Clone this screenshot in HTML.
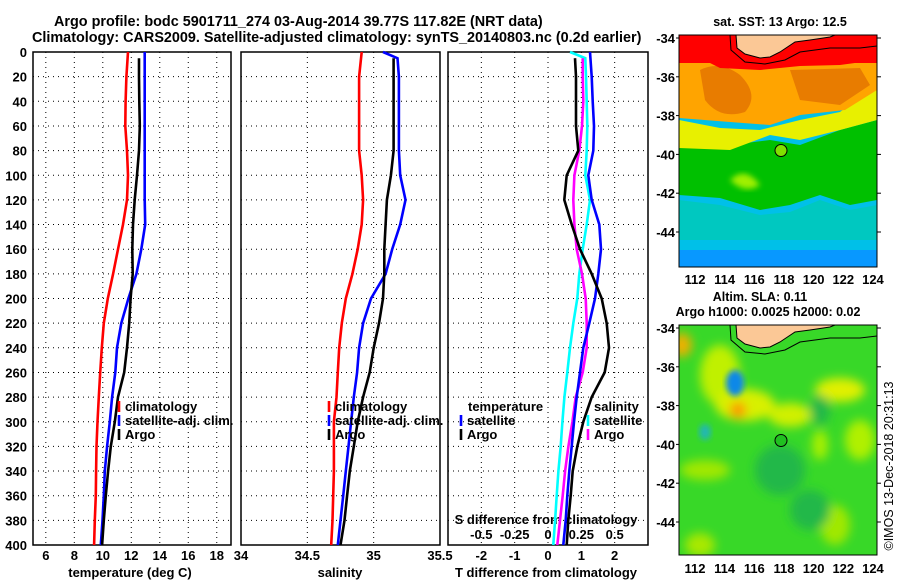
<!DOCTYPE html>
<html><head><meta charset="utf-8"><style>
html,body{margin:0;padding:0;background:#fff;}
svg{display:block;font-family:"Liberation Sans",sans-serif;font-weight:bold;}
</style></head><body>
<svg id="chart" width="900" height="580" viewBox="0 0 900 580" xmlns="http://www.w3.org/2000/svg">
<defs>
<clipPath id="m1c"><rect x="679" y="35" width="198" height="232"/></clipPath>
<clipPath id="m2c"><rect x="679" y="325" width="198" height="230"/></clipPath>
<filter id="bl" x="-20%" y="-20%" width="140%" height="140%"><feGaussianBlur stdDeviation="5"/></filter>
<filter id="bl2" x="-20%" y="-20%" width="140%" height="140%"><feGaussianBlur stdDeviation="3"/></filter>
</defs>
<text x="54" y="26" font-size="14.4">Argo profile: bodc 5901711_274 03-Aug-2014 39.77S 117.82E (NRT data)</text>
<text x="32" y="42" font-size="14.4">Climatology: CARS2009. Satellite-adjusted climatology: synTS_20140803.nc (0.2d earlier)</text>

<!-- SST map -->
<g clip-path="url(#m1c)">
<rect x="679" y="35" width="198" height="232" fill="#00c0e8"/>
<rect x="679" y="250" width="198" height="17" fill="#0898ff"/>
<path d="M679,200 L720,205 L760,215 L790,212 L820,200 L850,210 L877,205 L877,240 L679,240Z" fill="#00c8c0"/>
<path d="M679,140 L730,145 L770,140 L800,145 L840,130 L877,120 L877,200 L850,205 L820,195 L790,205 L760,210 L720,198 L679,195Z" fill="#00c000"/>
<path d="M730,180 Q745,165 760,185 Q745,195 730,180Z" fill="#a0f000" filter="url(#bl2)"/>
<path d="M679,120 L720,128 L760,130 L800,120 L840,112 L877,85 L877,120 L840,130 L800,140 L770,135 L730,150 L679,148Z" fill="#e8f000"/>
<path d="M679,60 L877,60 L877,90 L845,110 L800,115 L770,125 L730,122 L679,118Z" fill="#ffa400"/>
<path d="M700,70 Q720,60 740,75 Q760,95 745,112 Q720,120 705,100Z" fill="#e87c00"/>
<path d="M790,70 L860,68 L870,85 L840,105 L800,100 Z" fill="#e87c00"/>
<rect x="679" y="35" width="198" height="28" fill="#ff0000"/>
<path d="M679,58 L700,58 L720,68 L760,70 L800,66 L840,65 L877,60 L877,63 L679,63Z" fill="#ff0000"/>
<path d="M736,35 L737,48 L745,54 L760,58 L770,57 L780,52 L795,42 L810,40 L830,37 L835,35Z" fill="#fbc896"/>
<path d="M730,35 L731,50 L745,62 L765,64 L785,60 L800,52 L830,48 L860,48 L877,46" fill="none" stroke="#000" stroke-width="1"/>
<path d="M736,35 L737,48 L745,54 L760,58 L770,57 L780,52 L795,42 L810,40 L830,37 L835,35" fill="none" stroke="#000" stroke-width="1"/>
<circle cx="781" cy="150.5" r="6" fill="#80e000" stroke="#000" stroke-width="1"/>
</g>
<rect x="679" y="35" width="198" height="232" fill="none" stroke="#000" stroke-width="1"/>
<text x="780" y="26" font-size="12.5" text-anchor="middle">sat. SST: 13 Argo: 12.5</text>

<!-- SLA map -->
<g clip-path="url(#m2c)">
<rect x="679" y="325" width="198" height="230" fill="#38d828"/>
<g filter="url(#bl)">
<ellipse cx="720" cy="375" rx="20" ry="30" fill="#c0f000"/>
<ellipse cx="682" cy="345" rx="10" ry="12" fill="#f0b000"/>
<ellipse cx="745" cy="405" rx="30" ry="16" fill="#d8f000"/>
<ellipse cx="738" cy="410" rx="8" ry="8" fill="#ff9000"/>
<ellipse cx="790" cy="415" rx="22" ry="12" fill="#d0f000"/>
<ellipse cx="840" cy="390" rx="25" ry="12" fill="#e0f000"/>
<ellipse cx="860" cy="440" rx="15" ry="20" fill="#b0f000"/>
<ellipse cx="820" cy="445" rx="8" ry="15" fill="#a8f000"/>
<ellipse cx="705" cy="470" rx="25" ry="10" fill="#a0e800"/>
<ellipse cx="835" cy="525" rx="15" ry="20" fill="#a0e800"/>
<ellipse cx="700" cy="545" rx="15" ry="12" fill="#a8e800"/>
<ellipse cx="780" cy="470" rx="25" ry="25" fill="#20b848"/>
<ellipse cx="810" cy="510" rx="20" ry="20" fill="#20b848"/>
<ellipse cx="820" cy="410" rx="10" ry="15" fill="#20b848"/>
</g>
<ellipse cx="735" cy="383" rx="9" ry="13" fill="#1088e8" filter="url(#bl2)"/>
<ellipse cx="705" cy="432" rx="6" ry="8" fill="#20b8b0" filter="url(#bl2)"/>
<path d="M736,325 L737,338 L745,344 L760,348 L770,347 L780,342 L795,332 L810,330 L830,327 L835,325Z" fill="#fbc896"/>
<path d="M730,325 L731,340 L745,352 L765,354 L785,350 L800,342 L830,338 L860,338 L877,336" fill="none" stroke="#000" stroke-width="1"/>
<path d="M736,325 L737,338 L745,344 L760,348 L770,347 L780,342 L795,332 L810,330 L830,327 L835,325" fill="none" stroke="#000" stroke-width="1"/>
<circle cx="781" cy="440.5" r="6" fill="#20c020" stroke="#000" stroke-width="1"/>
</g>
<rect x="679" y="325" width="198" height="230" fill="none" stroke="#000" stroke-width="1"/>
<text x="760" y="301" font-size="12.5" text-anchor="middle">Altim. SLA: 0.11</text>
<text x="768" y="316" font-size="12.5" text-anchor="middle">Argo h1000: 0.0025 h2000: 0.02</text>
<text transform="translate(893,466) rotate(-90)" font-size="12.5" font-weight="normal" text-anchor="middle">©IMOS 13-Dec-2018 20:31:13</text>
<g id="dyn"></g>
</svg>
<script>
// ---- data ----
const depths = [0,20,40,60,80,100,120,140,160,180,200,220,240,260,280,300,320,340,360,380,400];
const depthsArgo = [5,20,40,60,80,100,120,140,160,180,200,220,240,260,280,300,320,340,360,380,400];
const depthsSatS = [0,5,20,40,60,80,100,120,140,160,180,200,220,240,260,280,300,320,340,360,380,400];
const tempClim = [11.77,11.66,11.6,11.58,11.7,11.77,11.7,11.42,11.07,10.72,10.35,10.07,9.93,9.82,9.72,9.63,9.56,9.53,9.51,9.44,9.39];
const tempSat = [12.94,12.94,12.94,12.94,12.94,12.94,12.94,12.98,12.7,12.36,11.8,11.3,11.0,10.88,10.65,10.49,10.3,10.14,10.07,9.98,9.86];
const tempArgo = [12.54,12.54,12.56,12.6,12.54,12.4,12.24,12.12,12.07,12.1,11.95,11.85,11.7,11.5,11.07,10.84,10.56,10.37,10.21,10.07,9.95];
const salClim = [34.91,34.89,34.89,34.89,34.89,34.91,34.92,34.91,34.88,34.84,34.79,34.76,34.74,34.73,34.72,34.70,34.70,34.70,34.695,34.69,34.68];
const salSat = [35.07,35.18,35.19,35.19,35.19,35.19,35.2,35.24,35.2,35.14,35.09,34.98,34.92,34.89,34.875,34.85,34.83,34.81,34.79,34.77,34.75,34.73];
const salArgo = [35.15,35.15,35.15,35.15,35.15,35.13,35.1,35.09,35.08,35.08,35.07,35.04,35.0,34.97,34.92,34.88,34.85,34.82,34.8,34.78,34.75];
const tDiffSat = [1.26,1.31,1.34,1.38,1.36,1.21,1.31,1.54,1.59,1.51,1.41,1.24,1.06,0.96,0.86,0.78,0.71,0.64,0.58,0.53,0.46];
const tDiffArgo = [0.81,0.84,0.84,0.84,0.91,0.56,0.49,0.71,0.96,1.31,1.61,1.76,1.83,1.7,1.31,1.06,0.88,0.74,0.68,0.61,0.56];
const sDiffSat = [0.165,0.28,0.285,0.29,0.295,0.29,0.28,0.315,0.29,0.26,0.235,0.22,0.19,0.165,0.145,0.123,0.108,0.095,0.078,0.065,0.053,0.04];
const sDiffArgo = [0.26,0.26,0.265,0.255,0.235,0.198,0.19,0.198,0.215,0.255,0.283,0.29,0.29,0.26,0.208,0.183,0.153,0.128,0.11,0.09,0.07];
const depthTicks = [0,20,40,60,80,100,120,140,160,180,200,220,240,260,280,300,320,340,360,380,400];
const tempTicks = [6,8,10,12,14,16,18];
const salTicks = [34,34.5,35,35.5];
const tdTicks = [-2,-1,0,1,2];
const sdTicks = [-0.5,-0.25,0,0.25,0.5];
const latTicks = [-34,-36,-38,-40,-42,-44];
const lonTicks = [112,114,116,118,120,122,124];

const NS='http://www.w3.org/2000/svg';
const g=document.getElementById('dyn');
function mk(tag,attrs,parent){const e=document.createElementNS(NS,tag);for(const k in attrs)e.setAttribute(k,attrs[k]);(parent||g).appendChild(e);return e;}
const top0=52, bot=545;
const yD=d=>top0+(d/400)*(bot-top0);
const panels=[
 {x0:33,x1:231,min:5.1,max:19,name:'temperature-panel'},
 {x0:241,x1:440,min:34,max:35.5,name:'salinity-panel'},
 {x0:448,x1:648,min:-3,max:3,name:'difference-panel'}];
function xS(p,v){return p.x0+(v-p.min)/(p.max-p.min)*(p.x1-p.x0);}
const xT=v=>xS(panels[0],v), xSal=v=>xS(panels[1],v), xTd=v=>xS(panels[2],v), xSd=v=>xS(panels[2],v*4);

// grids & frames
const gridX=[tempTicks.filter(t=>t>5.1&&t<19),[34.5,35],tdTicks];
panels.forEach((p,i)=>{
  const pg=mk('g',{});
  
  
  depthTicks.forEach(d=>{if(d>0&&d<400){const l=mk('line',{x1:p.x0,x2:p.x1,y1:yD(d),y2:yD(d),stroke:'#000','stroke-width':1,'stroke-dasharray':'1,4'},pg);
    }});
  gridX[i].forEach(v=>{const x=xS(p,v);const l=mk('line',{x1:x,x2:x,y1:top0,y2:bot,stroke:'#000','stroke-width':1,'stroke-dasharray':'1,4'},pg);
    });
  const r=mk('rect',{x:p.x0,y:top0,width:p.x1-p.x0,height:bot-top0,fill:'none',stroke:'#000','stroke-width':1.5},pg);
  
});
depthTicks.forEach(d=>{const t=mk('text',{x:27,y:yD(d)+5,'font-size':13,'text-anchor':'end'});t.textContent=d;
  });
function xlab(x,y,s,name){const t=mk('text',{x:x,y:y,'font-size':13,'text-anchor':'middle'});t.textContent=s;
  }
tempTicks.forEach(v=>xlab(xT(v),560,v,'temperature-tick-label'));
salTicks.forEach(v=>xlab(xSal(v),560,v,'salinity-tick-label'));
tdTicks.forEach(v=>xlab(xTd(v),560,v,'t-diff-tick-label'));
sdTicks.forEach(v=>xlab(xSd(v),539,v,'s-diff-tick-label'));
xlab(130,577,'temperature (deg C)','temperature-axis-title');
xlab(340,577,'salinity','salinity-axis-title');
xlab(546,577,'T difference from climatology','t-diff-axis-title');
xlab(546,524,'S difference from climatology','s-diff-axis-title');
latTicks.forEach(v=>{[0,290].forEach(off=>{const y=38+(-34-v)*19.4+off;
  const t=mk('text',{x:675,y:y+5,'font-size':13,'text-anchor':'end'});t.textContent=v;
  
  mk('line',{x1:877,x2:881,y1:y,y2:y,stroke:'#000'});mk('line',{x1:676,x2:679,y1:y,y2:y,stroke:'#000'});});});
lonTicks.forEach(v=>{const x=695+(v-112)*14.83;[284,573].forEach(y=>xlab(x,y,v,'longitude-tick-label'));});

// series
function line(xf,vals,ds,color,name){
  const pts=vals.map((v,i)=>xf(v).toFixed(1)+','+yD(ds[i]).toFixed(1)).join(' ');
  const pl=mk('polyline',{points:pts,fill:'none',stroke:color,'stroke-width':2.6,'stroke-linejoin':'miter'});
  
  
}
line(xT,tempClim,depths,'#ff0000','temperature-climatology-line');
line(xT,tempSat,depths,'#0000ff','temperature-satellite-line');
line(xT,tempArgo,depthsArgo,'#000000','temperature-argo-line');
line(xSal,salClim,depths,'#ff0000','salinity-climatology-line');
line(xSal,salSat,depthsSatS,'#0000ff','salinity-satellite-line');
line(xSal,salArgo,depthsArgo,'#000000','salinity-argo-line');
line(xSd,sDiffSat,depthsSatS,'#00ffff','s-diff-satellite-line');
line(xSd,sDiffArgo,depthsArgo,'#ff00ff','s-diff-argo-line');
line(xTd,tDiffSat,depths,'#0000ff','t-diff-satellite-line');
line(xTd,tDiffArgo,depthsArgo,'#000000','t-diff-argo-line');

// legends
function leg(x,y,color,label,name){
  if(color){const m=mk('line',{x1:x,x2:x,y1:y-10,y2:y+1,stroke:color,'stroke-width':2.6});
    }
  const t=mk('text',{x:x+6,y:y,'font-size':13});t.textContent=label;
  }
leg(119,411,'#ff0000','climatology','legend-climatology');
leg(119,425,'#0000ff','satellite-adj. clim.','legend-satellite');
leg(119,439,'#000','Argo','legend-argo');
leg(329,411,'#ff0000','climatology','legend-climatology-sal');
leg(329,425,'#0000ff','satellite-adj. clim.','legend-satellite-sal');
leg(329,439,'#000','Argo','legend-argo-sal');
leg(462,411,null,'temperature','legend-temperature-heading');
leg(461,425,'#0000ff','satellite','legend-t-satellite');
leg(461,439,'#000','Argo','legend-t-argo');
leg(588,411,null,'salinity','legend-salinity-heading');
leg(588,425,'#00ffff','satellite','legend-s-satellite');
leg(588,439,'#ff00ff','Argo','legend-s-argo');
</script>
</body></html>
